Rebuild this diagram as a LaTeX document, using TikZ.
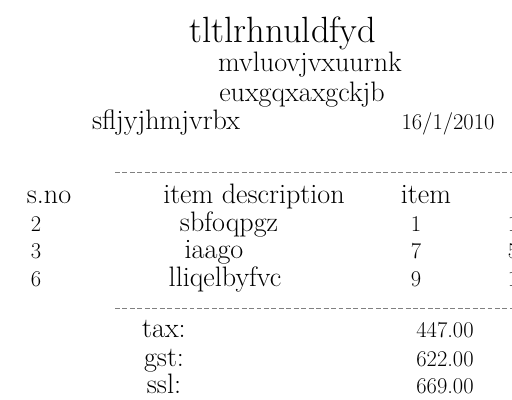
\documentclass[tikz,border=0pt]{standalone}

\begin{document}

\begin{tikzpicture}[txt/.style={anchor=base,inner sep=0pt,font=\fontsize{20}{25}\selectfont},
   head/.style={txt,font=\fontsize{26}{31}\selectfont},
   num/.style={anchor=base,inner sep=0pt,font=\fontsize{16}{19}\selectfont},
   rule/.style={gray,line width=0.5pt,dash pattern=on 3.5pt off 1.8pt}]

\useasboundingbox (0,0) rectangle (12.8,10);

\node[head] (shop) at (7.075,8.925) {tltlrhnuldfyd};
\node[txt] (street) at (7.75,8.2) {mvluovjvxuurnk};
\node[txt] (city) at (7.55,7.45) {euxgqxaxgckjb};
\node[txt] (cust) at (4.15,6.75) {sfljyjhmjvrbx};
\node[num] (date) at (11.2,6.75) {16/1/2010};

\coordinate (top a) at (2.875,5.69);
\coordinate (top b) at (13.2,5.69);
\draw[rule] (top a) -- (top b);

\node[txt] (sno) at (1.225,4.9) {s.no};
\node[txt] (desc) at (6.35,4.9) {item description};
\node[txt] (item) at (10.65,4.9) {item};

\foreach \n/\d/\x/\q/\r/\y in {2/sbfoqpgz/5.725/1/1/4.22,
                              3/iaago/5.35/7/5/3.54,
                              6/lliqelbyfvc/5.625/9/1/2.825}{
  \node[num] (no\n) at (0.9,\y) {\n};
  \node[txt] (name\n) at (\x,\y) {\d};
  \node[num] (qty\n) at (10.4,\y) {\q};
  \node[num,anchor=base west] (rate\n) at (12.69,\y) {\r};
}

\coordinate (bot a) at (2.875,2.3);
\coordinate (bot b) at (13.2,2.3);
\draw[rule] (bot a) -- (bot b);

\node[txt] (tax) at (4.1,1.55) {tax:};
\node[num] (taxv) at (11.125,1.55) {447.00};
\node[txt] (gst) at (4.1,0.825) {gst:};
\node[num] (gstv) at (11.125,0.825) {622.00};
\node[txt] (ssl) at (4.1,0.15) {ssl:};
\node[num] (sslv) at (11.125,0.15) {669.00};

\end{tikzpicture}

\end{document}
